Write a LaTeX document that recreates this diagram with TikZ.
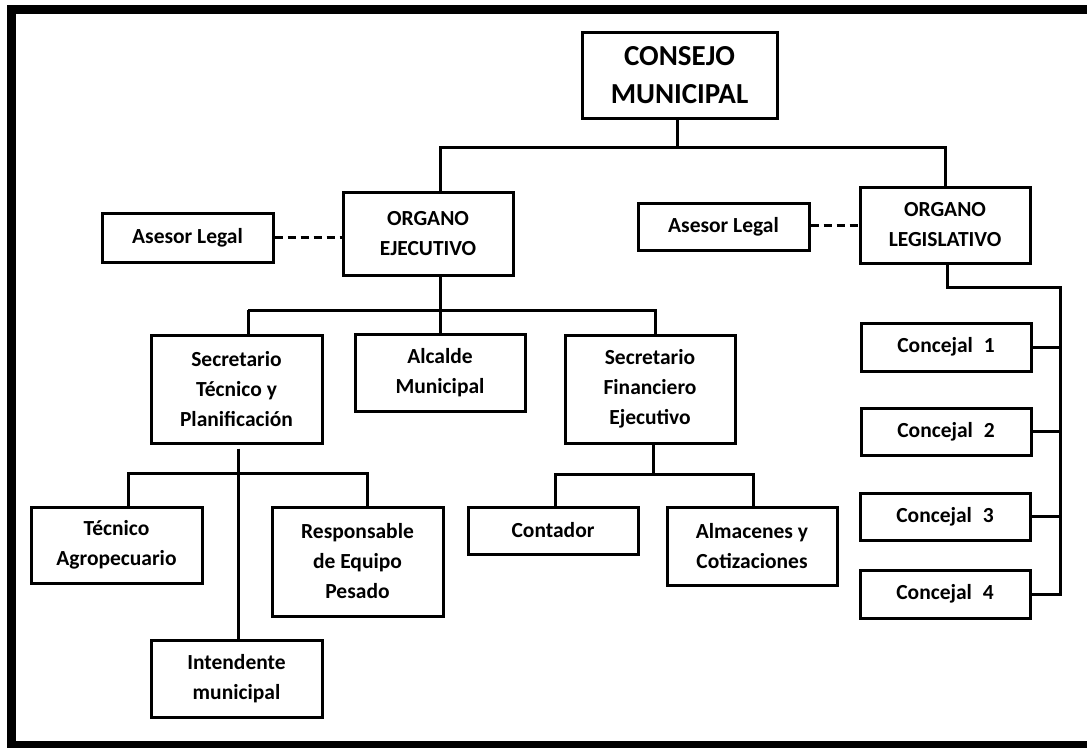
\documentclass[tikz,border=0pt]{standalone}
\usepackage{fontspec}
\setmainfont{Carlito}
\begin{document}
\begin{tikzpicture}[x=1pt,y=-1pt,
  box/.style={draw=black,line width=3pt,rectangle,inner sep=0pt,align=center,
    font=\bfseries\fontsize{21.5}{30}\selectfont,text=black},
  conn/.style={draw=black,line width=3pt},
  dconn/.style={draw=black,line width=3pt,dash pattern=on 8pt off 5pt}]
\useasboundingbox (0,0) rectangle (1087,747);
\begin{scope}
\clip (0,0) rectangle (1087,747);
\fill[white] (0,0) rectangle (1087,747);
\draw[line width=9pt] (1100,9.5) -- (11,9.5) -- (11,745) -- (1100,745);
\end{scope}
% nodes
\node[box,minimum width=195pt,minimum height=86pt,font=\bfseries\fontsize{29}{38}\selectfont] (consejo) at (679.5,75) {CONSEJO\\MUNICIPAL};
\node[box,minimum width=170pt,minimum height=83pt] (oe) at (428,233.5) {ORGANO\\EJECUTIVO};
\node[box,minimum width=171pt,minimum height=49pt] (al1) at (187.5,237.5) {Asesor Legal};
\node[box,minimum width=171pt,minimum height=47pt] (al2) at (723.5,226.5) {Asesor Legal};
\node[box,minimum width=170pt,minimum height=76pt] (ol) at (945,225) {ORGANO\\LEGISLATIVO};
\node[box,minimum width=170pt,minimum height=48pt] (c1) at (946,347) {Concejal\enspace 1};
\node[box,minimum width=170pt,minimum height=47pt] (c2) at (946,431.5) {Concejal\enspace 2};
\node[box,minimum width=170pt,minimum height=47pt] (c3) at (945,516.5) {Concejal\enspace 3};
\node[box,minimum width=170pt,minimum height=48pt] (c4) at (945,594) {Concejal\enspace 4};
\node[box,minimum width=171pt,minimum height=108pt] (st) at (236.5,389) {Secretario\\Técnico y\\Planificación};
\node[box,minimum width=170pt,minimum height=77pt] (alc) at (440,373) {Alcalde\\Municipal};
\node[box,minimum width=170pt,minimum height=108pt] (sf) at (650,389) {Secretario\\Financiero\\Ejecutivo};
\node[box,minimum width=170pt,minimum height=47pt] (cont) at (553,530.5) {Contador};
\node[box,minimum width=170pt,minimum height=78pt] (alm) at (752,546) {Almacenes y\\Cotizaciones};
\node[box,minimum width=171pt,minimum height=76pt] (tec) at (116.5,545) {Técnico\\Agropecuario};
\node[box,minimum width=171pt,minimum height=109pt] (resp) at (357.5,561.5) {Responsable\\de Equipo\\Pesado};
\node[box,minimum width=171pt,minimum height=77pt] (int) at (236.5,678.5) {Intendente\\municipal};
% junctions
\coordinate (bus1) at (677,147);
\coordinate (bus2) at (440,310);
\coordinate (bus3) at (238,473);
\coordinate (bus4) at (653,474);
\coordinate (bus5) at (1060,287);
% connectors
\draw[conn] (consejo.south -| bus1) -- (bus1);
\draw[conn] (oe.north -| bus2) |- (bus1) -| (ol.north);
\draw[dconn] (al1.east) -- (oe.west |- al1.east);
\draw[dconn] (al2.east |- ol.west) -- (ol.west);
\draw[conn] (oe.south -| bus2) -- (bus2);
\draw[conn] (248,310) -- (st.north -| 248,0);
\draw[conn] (bus2) -- (alc.north -| bus2);
\draw[conn] (248,310) -- (655,310) -- (sf.north -| 655,0);
\draw[conn] ([yshift=-4pt]st.south -| bus3) -- (int.north -| bus3);
\draw[conn] (tec.north -| 128,0) |- (367,473) -- (resp.north -| 367,0);
\draw[conn] (sf.south -| bus4) -- (bus4);
\draw[conn] (cont.north -| 555,0) |- (753,474) -- (alm.north -| 753,0);
\draw[conn] (ol.south -| 947,0) |- (bus5) |- (c4.east);
\draw[conn] (c1.east) -- (c1.east -| bus5);
\draw[conn] (c2.east) -- (c2.east -| bus5);
\draw[conn] (c3.east) -- (c3.east -| bus5);
\end{tikzpicture}
\end{document}
